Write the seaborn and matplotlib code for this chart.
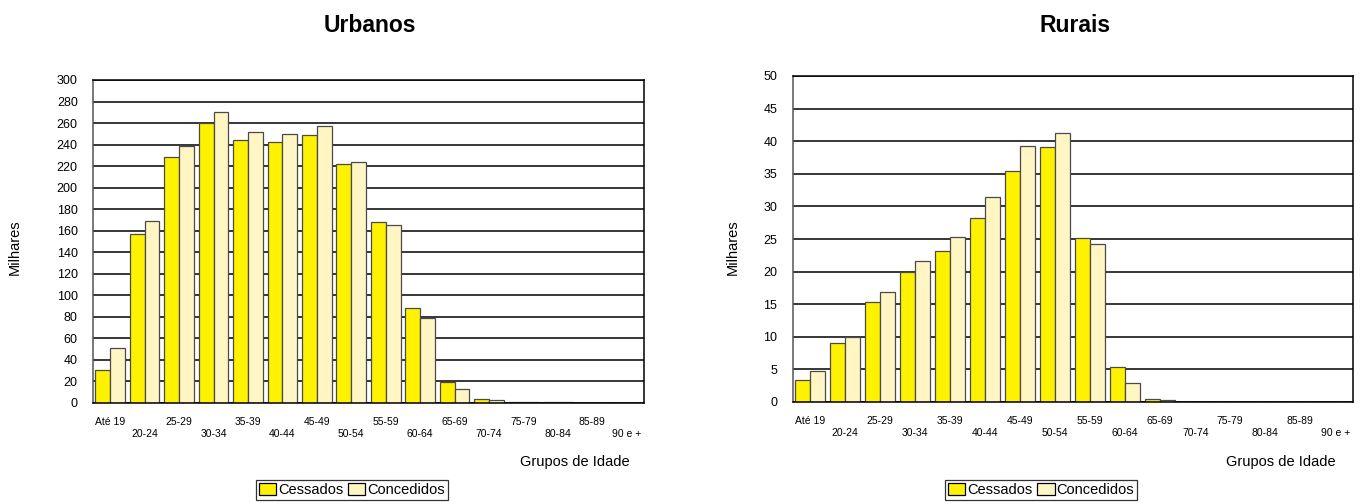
# %%
# Imports and settings
import matplotlib
matplotlib.use("Agg")
import matplotlib.pyplot as plt
import seaborn as sns
import pandas as pd

# %%
# Values (milhares)
grupos = ["Até 19", "20-24", "25-29", "30-34", "35-39", "40-44", "45-49", "50-54",
          "55-59", "60-64", "65-69", "70-74", "75-79", "80-84", "85-89", "90 e +"]

urb_cessados = [30, 157, 228, 260, 244, 242, 249, 222, 168, 88, 19, 3.5, 1.0, 0.3, 0.1, 0.05]
urb_concedidos = [51, 169, 239, 270, 252, 250, 257, 224, 165, 79, 13, 2.5, 0.8, 0.2, 0.05, 0.02]

rur_cessados = [3.4, 9.1, 15.4, 20.0, 23.1, 28.2, 35.4, 39.1, 25.2, 5.3, 0.5, 0.05, 0.02, 0.01, 0.0, 0.0]
rur_concedidos = [4.8, 10.0, 16.9, 21.6, 25.3, 31.4, 39.3, 41.3, 24.2, 2.9, 0.3, 0.03, 0.01, 0.0, 0.0, 0.0]

series = ["Cessados", "Concedidos"]
cores = {"Cessados": "#FFF200", "Concedidos": "#FFF6C4"}

sns.set_style("white")
plt.rcParams["font.family"] = ["Liberation Sans", "DejaVu Sans"]
plt.rcParams["text.color"] = "black"
plt.rcParams["xtick.color"] = "black"
plt.rcParams["ytick.color"] = "black"


def long_df(cess, conc):
    return pd.DataFrame({
        "grupo": grupos * 2,
        "serie": [series[0]] * len(grupos) + [series[1]] * len(grupos),
        "valor": cess + conc,
    })


def draw(ax, df, ymax, step):
    sns.barplot(data=df, x="grupo", y="valor", hue="serie", order=grupos,
                hue_order=series, palette=cores, width=0.86, edgecolor="#4a4a4a",
                linewidth=0.9, saturation=1, errorbar=None, ax=ax)
    ax.set_xlim(-0.5, len(grupos) - 0.5)
    ax.set_ylim(0, ymax)
    ax.set_yticks(range(0, ymax + 1, step))
    ax.yaxis.grid(True, color="black", lw=1.1)
    ax.set_axisbelow(True)
    for s in ax.spines.values():
        s.set_visible(True)
        s.set_color("black")
        s.set_linewidth(1.1)
    ax.spines["left"].set_color("#555555")
    ax.tick_params(axis="y", length=6, color="#555555", labelsize=9, pad=5)
    ax.tick_params(axis="x", length=7, color="#555555", labelsize=7.5, pad=3)
    ax.set_xticks(range(len(grupos)))
    ax.set_xticklabels([g if i % 2 == 0 else "\n" + g for i, g in enumerate(grupos)],
                       va="top", linespacing=1.25)
    ax.set_xlabel("")
    ax.set_ylabel("")
    ax.get_legend().remove()


fig = plt.figure(figsize=(13.69, 5.04), dpi=100)
ax1 = fig.add_axes([93 / 1369, 1 - 402.7 / 504, (644 - 93) / 1369, (402.7 - 80) / 504])
ax2 = fig.add_axes([792.7 / 1369, 1 - 402 / 504, (1352.7 - 792.7) / 1369, (402 - 76) / 504])

draw(ax1, long_df(urb_cessados, urb_concedidos), 300, 20)
draw(ax2, long_df(rur_cessados, rur_concedidos), 50, 5)

# Titles, axis labels and legends placed like the original layout
for ax, titulo, tx, lx, gx, mx in [(ax1, "Urbanos", 370, 352, 630, 14.5),
                                   (ax2, "Rurais", 1075, 1041, 1336, 733)]:
    fig.text(tx / 1369, 1 - 25 / 504, titulo, ha="center", va="center",
             fontsize=16.5, fontweight="bold")
    fig.text(mx / 1369, 1 - 247 / 504, "Milhares", rotation=90, ha="center",
             va="center", fontsize=10.5)
    fig.text(gx / 1369, 1 - 462 / 504, "Grupos de Idade", ha="right", va="center",
             fontsize=10.5)
    handles = [plt.Rectangle((0, 0), 1, 1, facecolor=cores[s], edgecolor="black", lw=0.9)
               for s in series]
    leg = ax.legend(handles, series, loc="center", ncol=2, frameon=True, fancybox=False,
                    bbox_to_anchor=(lx / 1369, 1 - 490 / 504), bbox_transform=fig.transFigure,
                    fontsize=10.5, handlelength=1.2, handleheight=0.9, handletextpad=0.15,
                    columnspacing=0.3, borderpad=0.2, borderaxespad=0)
    leg.get_frame().set_edgecolor("black")
    leg.get_frame().set_linewidth(0.9)

fig.savefig("out.png", dpi=100)
